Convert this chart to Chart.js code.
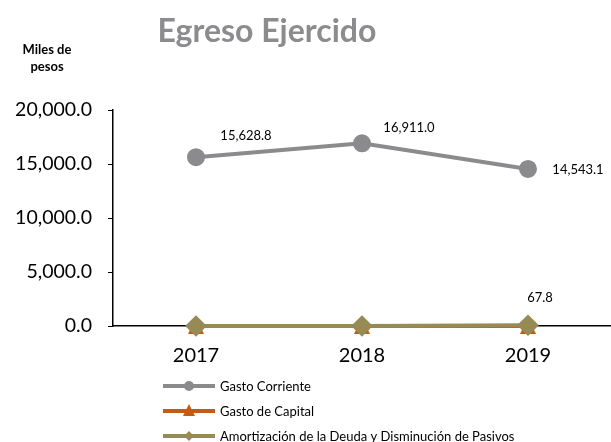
<!DOCTYPE html>
<html>
<head>
<meta charset="utf-8">
<script src="https://cdn.jsdelivr.net/npm/chart.js@4.4.1/dist/chart.umd.min.js"></script>
<style>
  html, body { margin: 0; padding: 0; background: #fff; }
  #wrap { width: 611px; height: 442px; position: relative; }
</style>
</head>
<body>
<div id="wrap"><canvas id="egresoChart"></canvas></div>
<script>
// Egreso ejercido por año, miles de pesos
const years = ["2017", "2018", "2019"];
const gastoCorriente = [15628.8, 16911.0, 14543.1];
const gastoCapital = [0, 0, 0];
const amortizacion = [0, 0, 67.8];
const yTicks = [0, 5000, 10000, 15000, 20000];

const FONT = "Lato, 'Noto Sans', sans-serif";
const fmt = (v) =>
  v.toLocaleString("en-US", { minimumFractionDigits: 1, maximumFractionDigits: 1 });

// Triangle marker centred on its bounding box (the built-in one sits high)
function triangleMarker(size, color) {
  const cv = document.createElement("canvas");
  cv.width = size;
  cv.height = size;
  const g = cv.getContext("2d");
  g.fillStyle = color;
  g.beginPath();
  g.moveTo(size / 2, 0);
  g.lineTo(size, size);
  g.lineTo(0, size);
  g.closePath();
  g.fill();
  return cv;
}
const triBig = triangleMarker(16, "#c55a11");
const triSmall = triangleMarker(12, "#c55a11");

// Which points get a value label, and where it sits relative to the point
const pointLabels = [
  { ds: 0, i: 0, dx: 50, dy: -21 },
  { ds: 0, i: 1, dx: 47, dy: -16 },
  { ds: 0, i: 2, dx: 50, dy: 1 },
  { ds: 2, i: 2, dx: 12, dy: -27 },
];

// Title, axis caption, point labels and the stacked legend
const decorPlugin = {
  id: "decor",
  afterDraw(chart) {
    const c = chart.ctx;
    c.save();
    c.textAlign = "center";
    c.textBaseline = "middle";

    c.fillStyle = "#8c8c8f";
    c.font = "bold 32px " + FONT;
    c.fillText("Egreso Ejercido", 267, 32);

    c.fillStyle = "#000";
    c.font = "bold 13px " + FONT;
    c.fillText("Miles de", 47, 50);
    c.fillText("pesos", 47, 67);

    c.font = "13px " + FONT;
    pointLabels.forEach((p) => {
      const el = chart.getDatasetMeta(p.ds).data[p.i];
      const v = chart.data.datasets[p.ds].data[p.i];
      c.fillText(fmt(v), el.x + p.dx, el.y + p.dy);
    });

    // legend: one entry per row, line with marker in the middle
    c.textAlign = "left";
    c.font = "13px " + FONT;
    chart.data.datasets.forEach((ds, k) => {
      const y = 386 + k * 25;
      c.strokeStyle = ds.borderColor;
      c.lineWidth = 4;
      c.beginPath();
      c.moveTo(163, y);
      c.lineTo(215, y);
      c.stroke();
      c.fillStyle = ds.pointBackgroundColor;
      if (ds.pointStyle === triBig) {
        c.drawImage(triSmall, 189 - 6, y - 7);
      } else {
        Chart.helpers.drawPoint(c, { pointStyle: ds.pointStyle, radius: 5, borderWidth: 0 }, 189, y);
      }
      c.fillStyle = "#000";
      c.fillText(ds.label, 220, y + 1);
    });
    c.restore();
  },
};

new Chart(document.getElementById("egresoChart"), {
  type: "line",
  data: {
    labels: years,
    datasets: [
      {
        label: "Gasto Corriente",
        data: gastoCorriente,
        borderColor: "#8b8b8e",
        pointBackgroundColor: "#8b8b8e",
        pointBorderColor: "#8b8b8e",
        pointStyle: "circle",
        pointRadius: 7,
        borderWidth: 4,
        order: 0,
      },
      {
        label: "Gasto de Capital",
        data: gastoCapital,
        borderColor: "#c55a11",
        pointBackgroundColor: "#c55a11",
        pointBorderColor: "#c55a11",
        pointStyle: triBig,
        pointRadius: 8,
        borderWidth: 4,
        order: 2,
      },
      {
        label: "Amortización de la Deuda y Disminución de Pasivos",
        data: amortizacion,
        borderColor: "#968a55",
        pointBackgroundColor: "#968a55",
        pointBorderColor: "#968a55",
        pointStyle: "rectRot",
        pointRadius: 8,
        borderWidth: 4,
        order: 1,
      },
    ],
  },
  options: {
    responsive: true,
    maintainAspectRatio: false,
    animation: false,
    clip: false,
    layout: { autoPadding: false, padding: { top: 110, right: -4, bottom: 80, left: 0 } },
    plugins: {
      legend: { display: false },
      tooltip: { enabled: false },
      title: { display: false },
    },
    scales: {
      x: {
        offset: true,
        grid: { drawOnChartArea: false, drawTicks: false },
        border: { color: "#000", width: 1.5 },
        ticks: { color: "#000", padding: 18, font: { family: FONT, size: 20 } },
        afterFit(scale) {
          scale.height = 36;
        },
      },
      y: {
        min: 0,
        max: 20000,
        afterBuildTicks(scale) {
          scale.ticks = yTicks.map((v) => ({ value: v }));
        },
        grid: { drawOnChartArea: false, drawTicks: true, tickLength: 5, color: "#000" },
        border: { color: "#000", width: 1.5 },
        ticks: {
          color: "#000",
          padding: 16,
          font: { family: FONT, size: 19.5 },
          callback: (v) => fmt(v),
        },
        afterFit(scale) {
          scale.width = 113;
        },
      },
    },
  },
  plugins: [decorPlugin],
});
</script>
</body>
</html>
